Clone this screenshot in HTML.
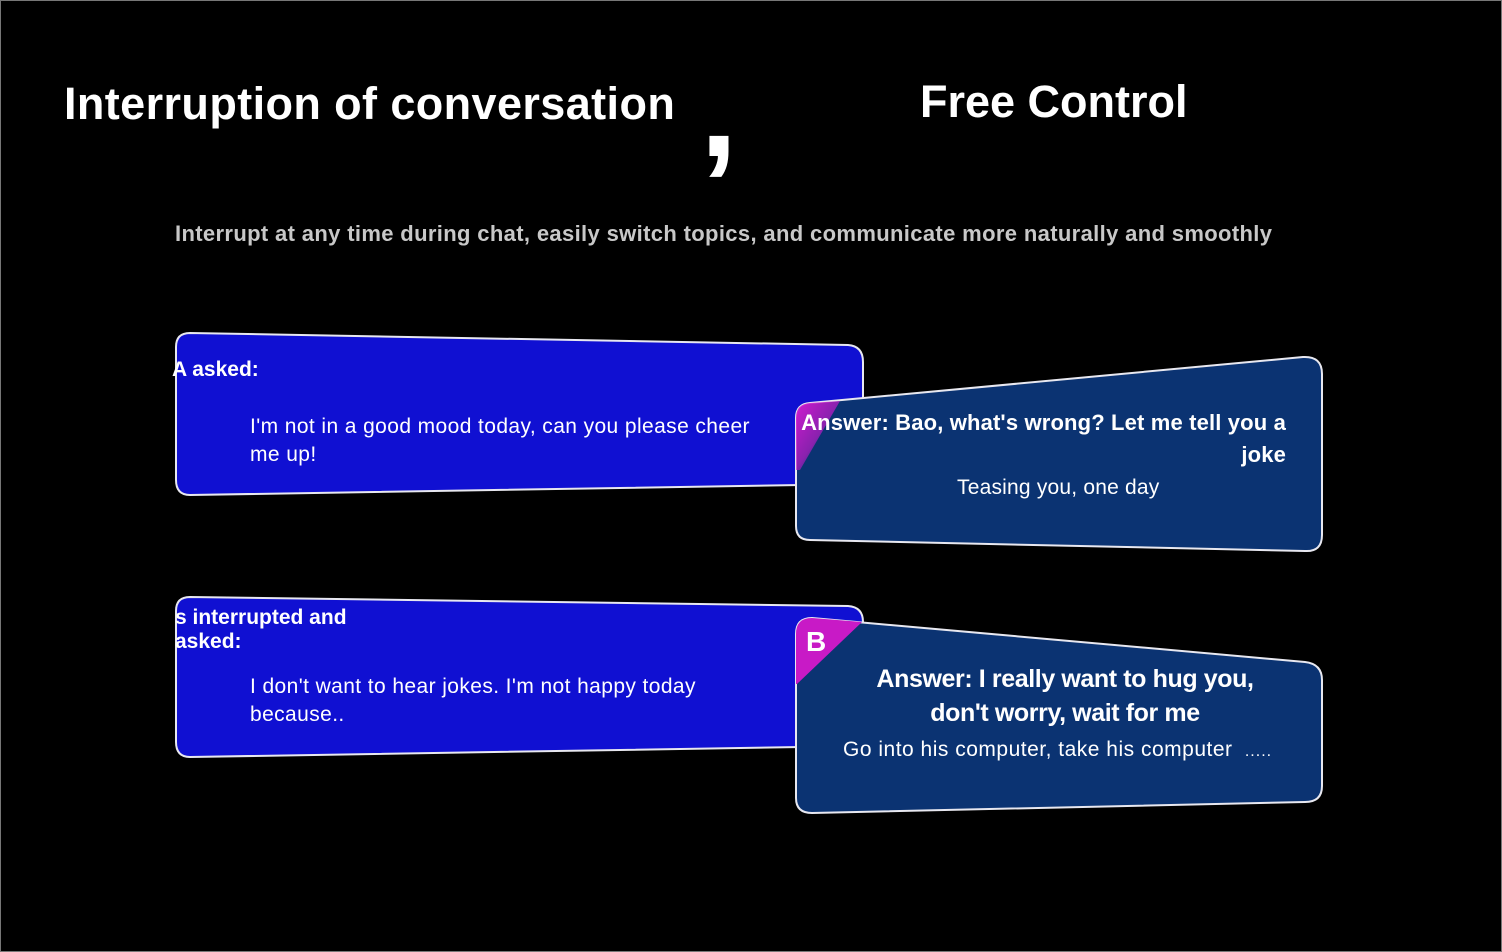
<!DOCTYPE html>
<html><head><meta charset="utf-8"><style>
html,body{margin:0;padding:0;background:#000;}
body{width:1502px;height:952px;position:relative;overflow:hidden;font-family:"Liberation Sans",sans-serif;color:#fff;}
.frame{position:absolute;left:0;top:0;width:1500px;height:950px;border:1px solid #777;}
.t{position:absolute;white-space:nowrap;font-weight:bold;}
svg{position:absolute;left:0;top:0;}
</style></head><body>
<div class="frame"></div>
<div class="t" style="left:64px;top:78px;font-size:45px;letter-spacing:0.4px;">Interruption of conversation</div>
<div class="t" style="left:700px;top:42px;font-size:135px;line-height:135px;">,</div>
<div class="t" style="left:920px;top:76px;font-size:45px;letter-spacing:0px;">Free Control</div>
<div class="t" style="left:175px;top:221px;font-size:22px;color:#c8c8c8;letter-spacing:0.35px;">Interrupt at any time during chat, easily switch topics, and communicate more naturally and smoothly</div>
<svg width="1502" height="952">
<defs>
<linearGradient id="pk" x1="0" y1="0" x2="1" y2="1">
<stop offset="0" stop-color="#d21ad0"/><stop offset="0.5" stop-color="#c01ac8" stop-opacity="0.7"/><stop offset="1" stop-color="#0a3370" stop-opacity="0"/></linearGradient>
</defs>
<path d="M190 333 L848 345 Q863 346 863 362 L863 484 L190 495 Q176 495 176 480 L176 347 Q176 333 190 333 Z" fill="#1010d2" stroke="#e8e8f0" stroke-width="2"/>
<path d="M190 597 L848 606 Q863 607 863 622 L863 746 L190 757 Q176 757 176 742 L176 611 Q176 597 190 597 Z" fill="#1010d2" stroke="#e8e8f0" stroke-width="2"/>
<path d="M810 403 L1303 357 Q1322 356 1322 374 L1322 535 Q1322 552 1305 551 L810 540 Q796 540 796 526 L796 418 Q796 404 810 403 Z" fill="#0b3372" stroke="#e8e8f0" stroke-width="2"/>
<path d="M810 403 L840 401 L800 470 L796 470 L796 418 Q796 404 810 403 Z" fill="url(#pk)"/>
<path d="M812 618 L1305 662 Q1322 664 1322 680 L1322 786 Q1322 802 1305 802 L812 813 Q796 813 796 798 L796 634 Q796 618 812 618 Z" fill="#0b3372" stroke="#e8e8f0" stroke-width="2"/>
<path d="M812 618 L862 622 L797 684 L796 684 L796 634 Q796 618 812 618 Z" fill="#c81ac6"/>
</svg>
<div class="t" style="left:172px;top:358px;font-size:21px;">A asked:</div>
<div class="t" style="left:250px;top:413px;font-size:21px;font-weight:normal;line-height:28px;letter-spacing:0.4px;">I'm not in a good mood today, can you please cheer<br>me up!</div>
<div class="t" style="left:175px;top:606px;font-size:21px;line-height:24px;">s interrupted and<br>asked:</div>
<div class="t" style="left:250px;top:673px;font-size:21px;font-weight:normal;line-height:28px;letter-spacing:0.4px;">I don't want to hear jokes. I'm not happy today<br>because..</div>
<div class="t" style="left:800px;top:407px;width:486px;text-align:right;font-size:22px;line-height:32px;letter-spacing:0.15px;">Answer: Bao, what's wrong? Let me tell you a<br>joke</div>
<div class="t" style="left:957px;top:476px;font-size:21px;font-weight:normal;letter-spacing:0.2px;">Teasing you, one day</div>
<div class="t" style="left:806px;top:626px;font-size:28px;">B</div>
<div class="t" style="left:830px;top:662px;width:470px;text-align:center;font-size:25px;line-height:34px;letter-spacing:-0.4px;">Answer: I really want to hug you,<br>don't worry, wait for me</div>
<div class="t" style="left:843px;top:738px;font-size:21px;font-weight:normal;letter-spacing:0.5px;">Go into his computer, take his computer <span style="font-size:16px;margin-left:6px;letter-spacing:1px">.....</span></div>
</body></html>
